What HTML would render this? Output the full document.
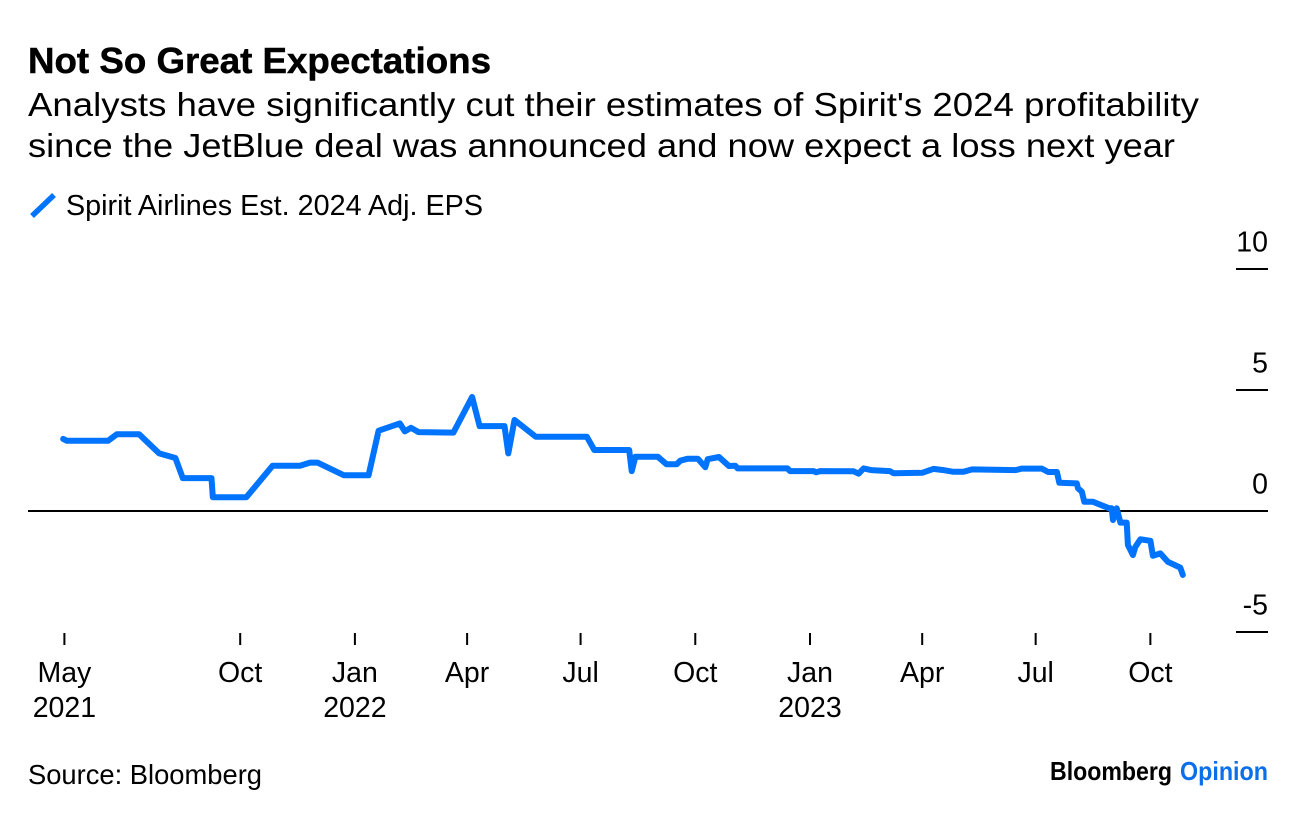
<!DOCTYPE html>
<html lang="en">
<head>
<meta charset="utf-8">
<title>Not So Great Expectations</title>
<style>
html,body{margin:0;padding:0;background:#fff;}
svg{display:block;font-family:"Liberation Sans",Arial,sans-serif;fill:#000;}
</style>
</head>
<body>
<svg id="chart" xmlns="http://www.w3.org/2000/svg" width="1296" height="816" viewBox="0 0 1296 816">
  <rect x="0" y="0" width="1296" height="816" fill="#fff"/>
  <text x="28" y="73" font-size="36" font-weight="700" stroke="#000" stroke-width="0.5" textLength="463" lengthAdjust="spacingAndGlyphs">Not So Great Expectations</text>
  <text x="28" y="116" font-size="33.5" textLength="1171" lengthAdjust="spacingAndGlyphs">Analysts have significantly cut their estimates of Spirit's 2024 profitability</text>
  <text x="28" y="157" font-size="33.5" textLength="1147" lengthAdjust="spacingAndGlyphs">since the JetBlue deal was announced and now expect a loss next year</text>
  <line x1="32" y1="216" x2="54" y2="195" stroke="#0073ff" stroke-width="5.5"/>
  <text x="66" y="215" font-size="28.5" textLength="417" lengthAdjust="spacingAndGlyphs">Spirit Airlines Est. 2024 Adj. EPS</text>
  <g id="y-axis"></g>
  <g id="x-axis"></g>
  <path id="series" fill="none" stroke="#0073ff" stroke-width="6" stroke-linejoin="round" stroke-linecap="round"/>
  <text x="28" y="784" font-size="27.5" textLength="234" lengthAdjust="spacingAndGlyphs">Source: Bloomberg</text>
  <text x="1050" y="780" font-size="26" font-weight="700" textLength="122" lengthAdjust="spacingAndGlyphs">Bloomberg</text>
  <text x="1180" y="780" font-size="26" font-weight="700" style="fill:#0a6fe8" textLength="88" lengthAdjust="spacingAndGlyphs">Opinion</text>
</svg>
<script>
// Days since the first axis tick (mid-May 2021)
const seriesDays = [-1,2,35,42,60,76,89,95,118,119,146,167,189,197,203,224,244,252,269,273,278,284,312,327,333,353,356,361,378,419,425,453,455,458,476,483,491,494,500,508,514,516,525,533,538,540,580,582,601,603,606,633,637,641,647,662,665,688,697,705,713,721,728,763,768,784,789,796,798,812,813,816,818,825,838,840,841,844,847,852,853,857,859,863,871,873,879,885,895,897];
// Estimated 2024 adjusted EPS, in dollars
const seriesValues = [2.98,2.90,2.90,3.17,3.17,2.38,2.19,1.36,1.36,0.57,0.57,1.87,1.87,2.00,2.00,1.48,1.48,3.32,3.62,3.29,3.44,3.26,3.24,4.71,3.51,3.51,2.38,3.76,3.07,3.07,2.52,2.52,1.65,2.24,2.24,1.93,1.93,2.08,2.16,2.16,1.81,2.14,2.23,1.86,1.87,1.76,1.76,1.65,1.65,1.60,1.65,1.64,1.54,1.76,1.69,1.65,1.56,1.58,1.74,1.69,1.62,1.62,1.72,1.69,1.75,1.75,1.61,1.61,1.17,1.14,0.94,0.80,0.38,0.38,0.11,0.11,-0.37,0.11,-0.48,-0.48,-1.40,-1.82,-1.48,-1.17,-1.23,-1.85,-1.75,-2.10,-2.34,-2.64];
const xTickDays = [0,141,233,323,414,506,598,688,779,871];
const xTickMonths = ["May","Oct","Jan","Apr","Jul","Oct","Jan","Apr","Jul","Oct"];
const xTickYears = ["2021","","2022","","","","2023","","",""];
const yTickValues = [10,5,0,-5];

const SVG_NS = "http://www.w3.org/2000/svg";
function xScale(day){ return 64.4 + day * 1.2468; }
function yScale(value){ return 511 - value * 24.2; }

function makeEl(tag, attrs, parent){
  const el = document.createElementNS(SVG_NS, tag);
  for (const k in attrs) el.setAttribute(k, attrs[k]);
  parent.appendChild(el);
  return el;
}

const yAxis = document.getElementById("y-axis");
yTickValues.forEach(function(v){
  const y = yScale(v);
  const line = makeEl("line", {x1: v === 0 ? 28 : 1236, x2: 1268, y1: y, y2: y, stroke: "#000", "stroke-width": 2}, yAxis);
  
  
  const label = makeEl("text", {x: 1268, y: y - 17.5, "font-size": 28.5, "text-anchor": "end"}, yAxis);
  
  
  label.textContent = String(v);
});

const xAxis = document.getElementById("x-axis");
xTickDays.forEach(function(d, i){
  const x = xScale(d);
  const tick = makeEl("line", {x1: x, x2: x, y1: 633, y2: 645, stroke: "#000", "stroke-width": 2}, xAxis);
  
  
  const month = makeEl("text", {x: x, y: 682, "font-size": 28.5, "text-anchor": "middle"}, xAxis);
  
  
  month.textContent = xTickMonths[i];
  if (xTickYears[i]) {
    const year = makeEl("text", {x: x, y: 717, "font-size": 28.5, "text-anchor": "middle"}, xAxis);
    
    
    year.textContent = xTickYears[i];
  }
});

document.getElementById("series").setAttribute("d", seriesDays.map(function(d, i){
  return (i ? "L" : "M") + xScale(d).toFixed(1) + " " + yScale(seriesValues[i]).toFixed(1);
}).join(" "));
</script>
</body>
</html>
